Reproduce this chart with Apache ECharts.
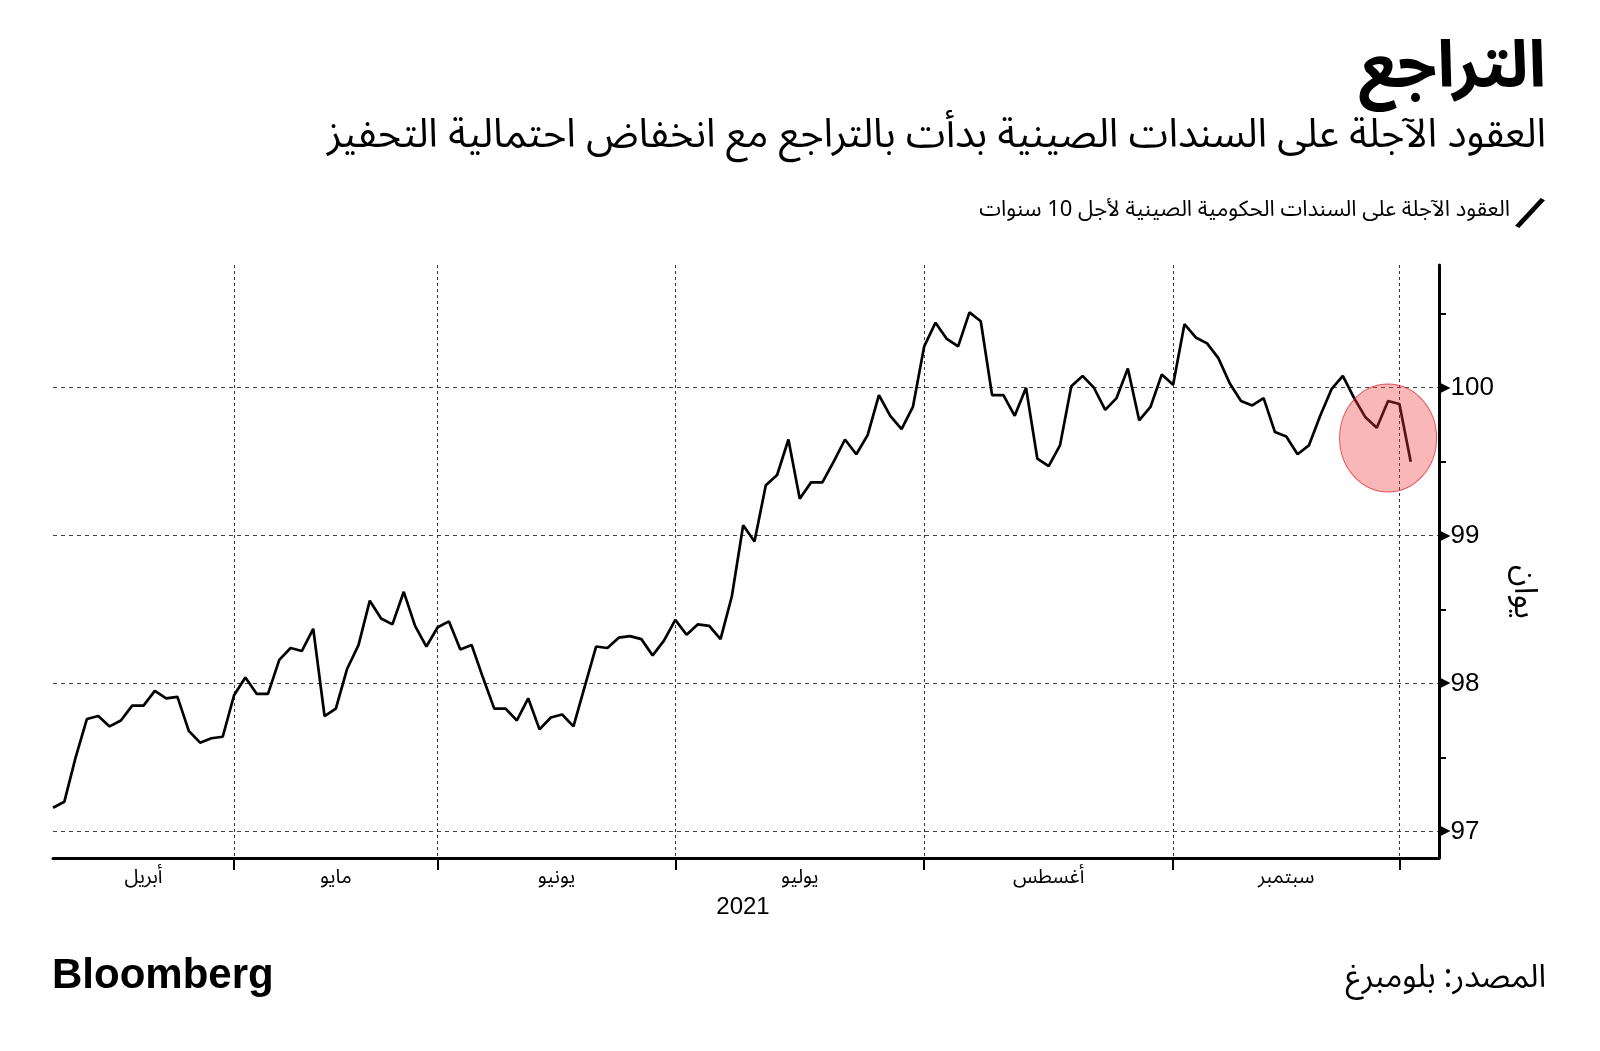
<!DOCTYPE html>
<html>
<head>
<meta charset="utf-8">
<script src="https://cdn.jsdelivr.net/npm/echarts@6/dist/echarts.min.js"></script>
<style>
html,body{margin:0;padding:0;background:#fff;}
#chart{width:1600px;height:1051px;}
</style>
</head>
<body>
<div id="chart"></div>
<script>
// ---- data (trading days, grouped by month) ----
const monthLabels = ['أبريل', 'مايو', 'يونيو', 'يوليو', 'أغسطس', 'سبتمبر', 'أكتوبر'];
const aprValues = [97.16, 97.20, 97.50, 97.76, 97.78, 97.71, 97.75, 97.85, 97.85, 97.95, 97.90, 97.91, 97.68, 97.60, 97.63, 97.64];
const mayValues = [97.92, 98.04, 97.93, 97.93, 98.16, 98.24, 98.22, 98.37, 97.78, 97.83, 98.10, 98.26, 98.56, 98.44, 98.40, 98.62, 98.39, 98.25];
const junValues = [98.38, 98.42, 98.23, 98.26, 98.04, 97.83, 97.83, 97.75, 97.90, 97.69, 97.77, 97.79, 97.71, 97.98, 98.25, 98.24, 98.31, 98.32, 98.30, 98.19, 98.29];
const julValues = [98.43, 98.33, 98.40, 98.39, 98.30, 98.59, 99.07, 98.96, 99.34, 99.41, 99.65, 99.25, 99.36, 99.36, 99.50, 99.65, 99.55, 99.68, 99.95, 99.81, 99.72, 99.87];
const augValues = [100.28, 100.44, 100.33, 100.28, 100.51, 100.45, 99.95, 99.95, 99.81, 100.00, 99.52, 99.47, 99.61, 100.01, 100.08, 100.00, 99.85, 99.93, 100.13, 99.78, 99.87, 100.09];
const sepValues = [100.02, 100.43, 100.34, 100.30, 100.20, 100.03, 99.91, 99.88, 99.93, 99.70, 99.67, 99.55, 99.61, 99.81, 99.99, 100.08, 99.93, 99.80, 99.73, 99.91];
const octValues = [99.89, 99.50];
const yTickLabels = [97, 98, 99, 100];
const yMinorTicks = [97.5, 98.5, 99.5, 100.5];
const yearLabel = '2021';
const seriesName = 'العقود الآجلة على السندات الحكومية الصينية لأجل 10 سنوات';
const unitLabel = 'يوان';
const titleText = 'التراجع';
const subtitleText = 'العقود الآجلة على السندات الصينية بدأت بالتراجع مع انخفاض احتمالية التحفيز';
const sourceText = 'المصدر: بلومبرغ';
const highlightRange = [116, 120]; // last trading days circled
const highlightValue = 99.66;      // vertical centre of the highlight circle (value units)

// ---- derived ----
const monthValues = [aprValues, mayValues, junValues, julValues, augValues, sepValues, octValues];
const values = [].concat(...monthValues);
const monthStarts = [];
let acc = 0;
monthValues.forEach(m => { monthStarts.push(acc); acc += m.length; });
const tickIdx = monthStarts.slice(1);
const labelIdx = monthStarts.slice(0, -1).map((s, i) => (s + monthStarts[i + 1]) / 2);
const lineData = values.map((v, i) => [i, v]);
const hlCenter = [(highlightRange[0] + highlightRange[1]) / 2, highlightValue];

const AR = "'Noto Sans Arabic', 'DejaVu Sans', sans-serif";
const LAT = "'Liberation Sans', Arial, sans-serif";

const chart = echarts.init(document.getElementById('chart'), null, {renderer: 'canvas'});
const yMin = 96.82, yMax = 100.83;
const option = {
  animation: false,
  backgroundColor: '#ffffff',
  grid: {left: 53, right: 161, top: 265, bottom: 193},
  legend: {
    data: [seriesName],
    right: 50, top: 193,
    align: 'right',
    itemWidth: 30, itemHeight: 30,
    icon: 'path://M1,27 L25,1 L29,3 L5,29 Z',
    textStyle: {fontFamily: AR, fontSize: 22, color: '#000'}
  },
  xAxis: {
    type: 'value', min: 0, max: values.length - 1 + 2.5,
    axisLine: {show: true, onZero: false, lineStyle: {color: '#000', width: 3}},
    axisTick: {show: true, customValues: tickIdx, length: 12, lineStyle: {color: '#000', width: 2}},
    axisLabel: {
      customValues: labelIdx,
      formatter: v => monthLabels[labelIdx.indexOf(v)] || '',
      fontFamily: AR, fontSize: 20, color: '#000', margin: 12
    },
    splitLine: {show: true, lineStyle: {type: [3, 3], color: '#333', width: 1}}
  },
  yAxis: [
    {
      type: 'value', position: 'right', min: yMin, max: yMax,
      axisLine: {show: true, onZero: false, lineStyle: {color: '#000', width: 3}},
      axisTick: {show: true, customValues: yMinorTicks, length: 7, lineStyle: {color: '#000', width: 2}},
      axisLabel: {
        customValues: yTickLabels, margin: 0,
        formatter: v => '{t|▶}{n|' + v + '}',
        rich: {
          t: {fontSize: 15, color: '#000', fontFamily: 'DejaVu Sans', padding: [0, 0, 0, 0]},
          n: {fontSize: 26, color: '#000', fontFamily: LAT}
        }
      },
      splitLine: {show: false}
    },
    {
      type: 'value', position: 'right', min: yMin, max: yMax,
      axisLine: {show: false, onZero: false},
      axisTick: {show: false, customValues: yTickLabels},
      axisLabel: {show: false},
      splitLine: {show: true, lineStyle: {type: [4, 4], color: '#444', width: 1}}
    }
  ],
  series: [
    {
      name: seriesName, type: 'line', data: lineData,
      showSymbol: false, symbol: 'none',
      lineStyle: {color: '#000', width: 2.7},
      itemStyle: {color: '#000'},
      z: 3
    },
    {
      name: 'highlight', type: 'scatter', data: [hlCenter],
      symbol: 'circle', symbolSize: [97, 108],
      itemStyle: {color: 'rgba(242,55,55,0.45)', borderColor: 'rgba(220,30,40,0.9)', borderWidth: 1},
      silent: true, z: 5
    }
  ],
  graphic: [
    {type: 'text', x: 1546, y: 77, style: {text: titleText, align: 'right', verticalAlign: 'middle', fontFamily: AR, fontWeight: 'bold', fontSize: 65, fill: '#000'}},
    {type: 'text', x: 1546, y: 141, style: {text: subtitleText, align: 'right', verticalAlign: 'middle', fontFamily: AR, fontSize: 40, fill: '#000'}},
    {type: 'text', x: 743, y: 907, style: {text: yearLabel, align: 'center', verticalAlign: 'middle', fontFamily: LAT, fontSize: 24, fill: '#000'}},
    {type: 'text', x: 1520, y: 592, rotation: -Math.PI / 2, style: {text: unitLabel, align: 'center', verticalAlign: 'middle', fontFamily: AR, fontSize: 32, fill: '#000'}},
    {type: 'text', x: 52, y: 976, style: {text: 'Bloomberg', align: 'left', verticalAlign: 'middle', fontFamily: LAT, fontWeight: 'bold', fontSize: 42, fill: '#000'}},
    {type: 'text', x: 1546, y: 982, style: {text: sourceText, align: 'right', verticalAlign: 'middle', fontFamily: AR, fontSize: 32, fill: '#000'}}
  ]
};
chart.setOption(option);
</script>
</body>
</html>
